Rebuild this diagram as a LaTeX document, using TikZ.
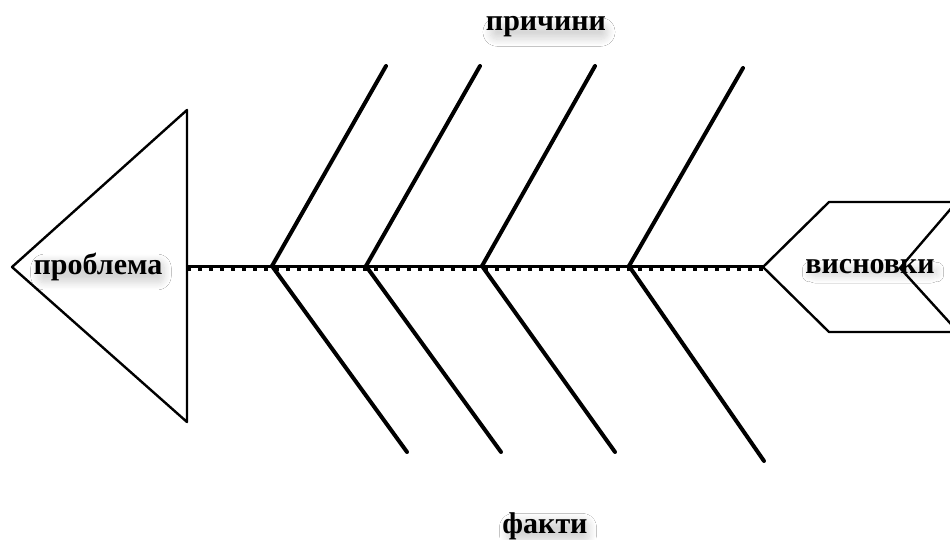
\documentclass[tikz,border=0pt]{standalone}
\usepackage{fontspec}
\setmainfont{Liberation Serif}
\usetikzlibrary{shadows.blur}
\begin{document}
\begin{tikzpicture}[x=1pt,y=-1pt,
  outline/.style={line width=2.4pt,line join=round},
  bone/.style={line width=4pt,line cap=round},
  lbl/.style={font=\fontsize{30}{34}\selectfont\bfseries,inner xsep=-1pt,inner ysep=-3pt,rounded corners=7pt,
    blur shadow={shadow xshift=3pt,shadow yshift=-5pt,shadow blur radius=7pt,shadow blur steps=12,shadow opacity=16}}]
\useasboundingbox[fill=white] (0,0) rectangle (950,539);
\begin{scope}
\clip (0,0) rectangle (950,539);
% head triangle
\draw[outline] (12,267) -- (187,110) -- (187,422) -- cycle;
% tail hexagons
\draw[outline] (1000,202) -- (829,202) -- (763,267) -- (829,332) -- (1000,332);
\draw[outline] (960,198) -- (900,268) -- (960,334);
\end{scope}
% spine
\coordinate (s0) at (187,266);
\coordinate (s5) at (763,266);
\coordinate (j1) at (272,266);
\coordinate (j2) at (366,266);
\coordinate (j3) at (482,266);
\coordinate (j4) at (629,266);
\coordinate (u1) at (386,66);
\coordinate (u2) at (480,66);
\coordinate (u3) at (595,66);
\coordinate (u4) at (743,68);
\coordinate (d1) at (407,452);
\coordinate (d2) at (501,452);
\coordinate (d3) at (615,452);
\coordinate (d4) at (764,461);
\draw[line width=3pt] (s0) -- (s5);
\draw[line width=3.5pt,dash pattern=on 4pt off 7pt] ([yshift=-3pt]s0) -- ([yshift=-3pt]s5);
\foreach \i in {1,2,3,4}{
  \draw[bone] (j\i) -- (u\i);
  \draw[bone] (j\i) -- (d\i);
}
% labels
\node[lbl] (problem) at (98,267) {проблема};
\node[lbl] (concl) at (870,267) {висновки};
\node[lbl] (causes) at (546,27) {причини};
\node[lbl] (facts) at (545,526) {факти};
\end{tikzpicture}
\end{document}
